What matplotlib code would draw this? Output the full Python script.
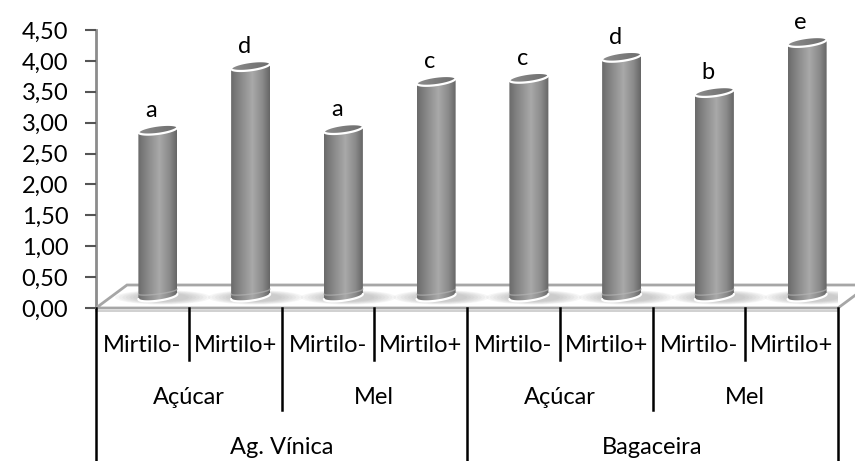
import numpy as np
import matplotlib
matplotlib.use("Agg")
import matplotlib.pyplot as plt
from matplotlib.patches import Polygon, Ellipse
from matplotlib.colors import LinearSegmentedColormap
from matplotlib.transforms import blended_transform_factory
from matplotlib.ticker import FuncFormatter

# ---- data -------------------------------------------------------------
bases = ["Ag. Vínica", "Bagaceira"]
sweeteners = ["Açúcar", "Mel", "Açúcar", "Mel"]
treatments = ["Mirtilo-", "Mirtilo+", "Mirtilo-", "Mirtilo+",
              "Mirtilo-", "Mirtilo+", "Mirtilo-", "Mirtilo+"]
values = [2.70, 3.73, 2.71, 3.49, 3.54, 3.88, 3.31, 4.12]
letters = ["a", "d", "a", "c", "c", "d", "b", "e"]
yticks = [0.0, 0.5, 1.0, 1.5, 2.0, 2.5, 3.0, 3.5, 4.0, 4.5]

plt.rcParams['font.family'] = ['Lato', 'DejaVu Sans']
FS = 17

W, H, DPI = 855, 461, 100
fig = plt.figure(figsize=(W / DPI, H / DPI), dpi=DPI)
left_px, right_px, zero_px, top_px = 96, 838, 308, 30
ax = fig.add_axes([left_px / W, 1 - zero_px / H,
                   (right_px - left_px) / W, (zero_px - top_px) / H])
n = len(values)
ax.set_xlim(0, n)
ax.set_ylim(0, 4.5)

# pixel -> data scale factors
px_x = n / (right_px - left_px)
px_y = 4.5 / (zero_px - top_px)

# depth of the floor (3D effect)
DX = 31 * px_x
DY = 23 * px_y

# ---- floor --------------------------------------------------------------
floor = Polygon([(0, 0), (n, 0), (n + DX, DY), (DX, DY)], closed=True,
                facecolor="white", edgecolor="#a6a6a6", lw=2.0,
                zorder=1, clip_on=False)
ax.add_patch(floor)
# thin front slab edge of the floor
ax.plot([0, n], [-2.5 * px_y, -2.5 * px_y], color="#c8c8c8", lw=1.2,
        zorder=1, clip_on=False)

# ---- cylinders ------------------------------------------------------------
cyl_cmap = LinearSegmentedColormap.from_list(
    "cyl", [(0.0, "#6a6a6a"), (0.2, "#838383"), (0.55, "#a9a9a9"),
            (0.8, "#8c8c8c"), (1.0, "#656565")])
top_cmap = LinearSegmentedColormap.from_list(
    "top", [(0.0, "#8c8c8c"), (0.5, "#7c7c7c"), (1.0, "#6e6e6e")])

w = 19.5 * px_x          # half width of a cylinder
h = 4.2 * px_y           # half height of the elliptical caps
tilt = 0.13 * px_y / px_x  # slight perspective tilt of the caps
base = DY / 2
grad = np.linspace(0, 1, 256).reshape(1, -1)

for i, v in enumerate(values):
    c = i + 0.5 + DX / 2
    yb, yt = base, base + v

    # soft shadow on the floor, cast slightly to the right
    for k in range(7):
        f = 1 - k / 7
        ax.add_patch(Ellipse((c + 5 * px_x, base - 0.2 * h),
                             width=2 * w * (1.15 + 1.3 * f),
                             height=2 * h * (0.9 + 0.8 * f),
                             facecolor="#8c8c8c", edgecolor="none",
                             alpha=0.075, zorder=2))

    t_top = np.linspace(np.pi, 0, 60)
    t_bot = np.linspace(0, -np.pi, 60)
    xs_top = c + w * np.cos(t_top)
    ys_top = yt + h * np.sin(t_top) + tilt * w * np.cos(t_top)
    xs_bot = c + w * np.cos(t_bot)
    ys_bot = yb + h * np.sin(t_bot) + tilt * w * np.cos(t_bot)
    body = Polygon(np.column_stack([np.r_[xs_top, xs_bot], np.r_[ys_top, ys_bot]]),
                   closed=True, facecolor="none", edgecolor="none", zorder=3)
    ax.add_patch(body)
    im = ax.imshow(grad, cmap=cyl_cmap, aspect="auto", interpolation="bilinear",
                   extent=[c - w, c + w, yb - 2 * h, yt + 2 * h], zorder=3)
    im.set_clip_path(body)

    # light rim at the foot of the cylinder
    ax.plot(xs_bot, ys_bot, color="white", lw=1.6, zorder=4, solid_capstyle="round")
    band_y = yb + 0.05 + h * np.sin(t_bot) * 0.6 + tilt * w * np.cos(t_bot)
    ax.plot(xs_bot, band_y + 0.03, color="#b8b8b8", lw=1.0, alpha=0.6, zorder=4)

    # top cap
    t = np.linspace(0, 2 * np.pi, 100)
    cap_pts = np.column_stack([c + w * np.cos(t),
                               yt + h * np.sin(t) + tilt * w * np.cos(t)])
    cap = Polygon(cap_pts, closed=True, facecolor="none", edgecolor="none", zorder=5)
    ax.add_patch(cap)
    im2 = ax.imshow(grad, cmap=top_cmap, aspect="auto", interpolation="bilinear",
                    extent=[c - w, c + w, yt - 2 * h, yt + 2 * h], zorder=5)
    im2.set_clip_path(cap)
    ax.add_patch(Polygon(cap_pts, closed=True, facecolor="none",
                         edgecolor="white", lw=1.6, zorder=6))

    # significance letter
    ax.text(c - 0.07, yt + h + 9 * px_y, letters[i], ha="center", va="baseline",
            fontsize=FS, color="black", zorder=7)

ax.set_xlim(0, n)
ax.set_ylim(0, 4.5)

# ---- axes styling -------------------------------------------------------
for s in ["top", "right", "bottom"]:
    ax.spines[s].set_visible(False)
ax.spines["left"].set_color("#8c8c8c")
ax.spines["left"].set_linewidth(2.0)
ax.spines["left"].set_zorder(0.5)
ax.set_xticks([])
ax.set_yticks(yticks)
ax.yaxis.set_major_formatter(FuncFormatter(lambda v, p: f"{v:.2f}".replace(".", ",")))
ax.tick_params(axis="y", length=8, width=1.5, color="#555555", pad=12,
               labelsize=FS, labelcolor="black")
ax.patch.set_alpha(0)

# ---- multi-level category axis ------------------------------------------
tr = blended_transform_factory(ax.transData, fig.transFigure)
y_start = 1 - zero_px / H
ends = {0: 0.0, 4: 0.0, 8: 0.0, 2: 1 - 410 / H, 6: 1 - 410 / H}
for b in range(n + 1):
    ye = ends.get(b, 1 - 360 / H)
    ax.plot([b, b], [y_start, ye], color="black", lw=1.8, transform=tr,
            clip_on=False, zorder=1)

for i, lab in enumerate(treatments):
    ax.text(i + 0.5, 1 - 345 / H, lab, transform=tr, ha="center", va="center",
            fontsize=FS, color="black")
for j, lab in enumerate(sweeteners):
    ax.text(2 * j + 1, 1 - 397 / H, lab, transform=tr, ha="center", va="center",
            fontsize=FS, color="black")
for j, lab in enumerate(bases):
    ax.text(4 * j + 2, 1 - 447 / H, lab, transform=tr, ha="center", va="center",
            fontsize=FS, color="black")

fig.savefig("out.png", dpi=DPI)
